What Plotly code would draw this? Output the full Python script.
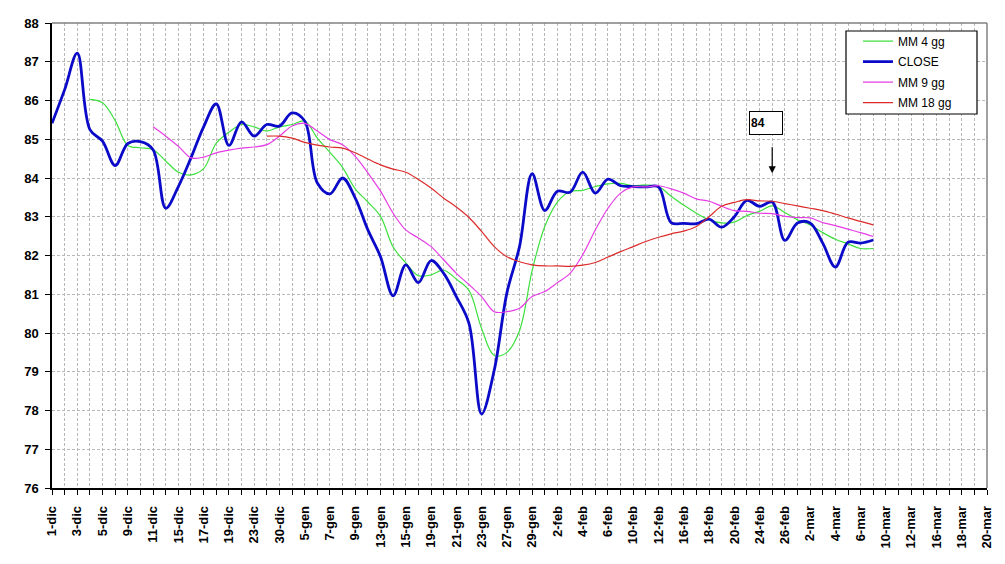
import plotly.graph_objects as go

dates = ["1-dic", "2-dic", "3-dic", "4-dic", "5-dic", "8-dic", "9-dic", "10-dic", "11-dic", "12-dic",
         "15-dic", "16-dic", "17-dic", "18-dic", "19-dic", "22-dic", "23-dic", "29-dic", "30-dic", "2-gen",
         "5-gen", "6-gen", "7-gen", "8-gen", "9-gen", "12-gen", "13-gen", "14-gen", "15-gen", "16-gen",
         "19-gen", "20-gen", "21-gen", "22-gen", "23-gen", "26-gen", "27-gen", "28-gen", "29-gen", "30-gen",
         "2-feb", "3-feb", "4-feb", "5-feb", "6-feb", "9-feb", "10-feb", "11-feb", "12-feb", "13-feb",
         "16-feb", "17-feb", "18-feb", "19-feb", "20-feb", "23-feb", "24-feb", "25-feb", "26-feb", "27-feb",
         "2-mar", "3-mar", "4-mar", "5-mar", "6-mar", "9-mar", "10-mar", "11-mar", "12-mar", "13-mar",
         "16-mar", "17-mar", "18-mar", "19-mar", "20-mar"]

close = [85.41, 86.28, 87.22, 85.25, 84.95, 84.32, 84.89, 84.94, 84.73, 83.22,
         83.78, 84.52, 85.32, 85.91, 84.84, 85.45, 85.08, 85.38, 85.34, 85.68,
         85.47, 83.87, 83.59, 84.00, 83.48, 82.66, 81.97, 80.96, 81.76, 81.30,
         81.87, 81.54, 80.94, 80.25, 77.91, 79.04, 81.03, 82.23, 84.11, 83.16,
         83.66, 83.63, 84.15, 83.61, 83.97, 83.80, 83.78, 83.77, 83.77, 82.85,
         82.83, 82.82, 82.94, 82.73, 83.00, 83.42, 83.27, 83.38, 82.39, 82.84,
         82.84, 82.32, 81.70, 82.34, 82.32, 82.40]

# MM 4 gg starts at the 4th session
mm4 = [86.03, 85.94, 85.48, 84.84, 84.78, 84.73, 84.44, 84.15, 84.08, 84.24,
       84.90, 85.18, 85.38, 85.32, 85.21, 85.32, 85.38, 85.47, 85.03, 84.66,
       84.27, 83.72, 83.38, 83.01, 82.22, 81.81, 81.48, 81.50, 81.62, 81.39,
       81.10, 80.12, 79.42, 79.50, 80.06, 81.61, 82.75, 83.38, 83.65, 83.68,
       83.78, 83.85, 83.86, 83.80, 83.82, 83.78, 83.53, 83.30, 83.09, 82.92,
       82.84, 82.86, 83.03, 83.14, 83.28, 83.11, 82.92, 82.79, 82.59, 82.42,
       82.30, 82.18, 82.18]

# MM 9 gg starts at the 9th session
mm9 = [85.32, 85.08, 84.82, 84.52, 84.54, 84.65, 84.72, 84.77, 84.80, 84.86,
       85.08, 85.34, 85.41, 85.21, 84.99, 84.86, 84.56, 84.13, 83.66, 83.09,
       82.66, 82.45, 82.23, 81.89, 81.54, 81.25, 80.94, 80.55, 80.55, 80.64,
       80.94, 81.07, 81.30, 81.54, 82.02, 82.66, 83.22, 83.61, 83.77, 83.77,
       83.80, 83.72, 83.61, 83.46, 83.40, 83.27, 83.16, 83.14, 83.09, 83.08,
       83.01, 82.98, 82.97, 82.85, 82.77, 82.68, 82.59, 82.49]

# MM 18 gg starts at the 18th session
mm18 = [85.08, 85.08, 85.03, 84.92, 84.85, 84.80, 84.77, 84.65, 84.49, 84.34,
        84.23, 84.15, 83.96, 83.74, 83.48, 83.25, 82.98, 82.62, 82.23, 81.97,
        81.84, 81.76, 81.73, 81.73, 81.72, 81.75, 81.82, 81.96, 82.10, 82.23,
        82.36, 82.47, 82.56, 82.63, 82.75, 83.00, 83.27, 83.37, 83.44, 83.41,
        83.40, 83.34, 83.28, 83.22, 83.16, 83.07, 82.97, 82.88, 82.79]

y_ticks = list(range(76, 89))
tick_text = [d if i % 2 == 0 else "" for i, d in enumerate(dates)]

FONT = "Liberation Sans, Arial, sans-serif"

fig = go.Figure()
fig.add_trace(go.Scatter(x=dates[3:3 + len(mm4)], y=mm4, name="MM 4 gg", mode="lines", legendgroup="a",
                         line=dict(color="#3ee03e", width=1.2, shape="spline", smoothing=1.0)))
fig.add_trace(go.Scatter(x=dates[:len(close)], y=close, name="CLOSE", mode="lines", legendgroup="b",
                         line=dict(color="#0a0ac8", width=2.8, shape="spline", smoothing=1.0)))
fig.add_trace(go.Scatter(x=dates[8:8 + len(mm9)], y=mm9, name="MM 9 gg", mode="lines", legendgroup="c",
                         line=dict(color="#e63ce6", width=1.2, shape="spline", smoothing=1.0)))
fig.add_trace(go.Scatter(x=dates[17:17 + len(mm18)], y=mm18, name="MM 18 gg", mode="lines", legendgroup="d",
                         line=dict(color="#dc2a2a", width=1.2, shape="spline", smoothing=1.0)))

fig.update_layout(
    width=1005, height=564,
    margin=dict(l=52, r=18, t=23, b=76),
    paper_bgcolor="white", plot_bgcolor="white",
    font=dict(family=FONT, size=12, color="black"),
    showlegend=True,
    legend=dict(x=0.862, y=0.992, xanchor="left", yanchor="top",
                bgcolor="rgba(0,0,0,0)", borderwidth=0, traceorder="grouped",
                font=dict(family=FONT, size=12, color="black"),
                tracegroupgap=1.5, itemwidth=30),
    xaxis=dict(type="category", categoryorder="array", categoryarray=dates,
               range=[0, len(dates) - 1],
               tickmode="array", tickvals=dates, ticktext=tick_text,
               tickangle=-90, tickfont=dict(family=FONT, size=13, weight="bold"),
               ticks="outside", ticklen=5, tickcolor="black", tickwidth=1,
               ticklabelstandoff=6,
               showline=True, linecolor="black", linewidth=1.5,
               showgrid=True, gridcolor="#b8b8b8", gridwidth=1, griddash="3px,2px",
               zeroline=False, fixedrange=True),
    yaxis=dict(range=[76, 88], tickmode="array", tickvals=y_ticks,
               tickfont=dict(family=FONT, size=13, weight="bold"),
               ticks="outside", ticklen=5, tickcolor="black", tickwidth=1,
               ticklabelstandoff=4,
               showline=True, linecolor="black", linewidth=1.5,
               showgrid=True, gridcolor="#b8b8b8", gridwidth=1, griddash="3px,2px",
               zeroline=False, fixedrange=True),
)

# grey frame on top and right of the plot area
fig.add_shape(type="line", xref="paper", yref="paper", x0=0, x1=1, y0=1, y1=1,
              line=dict(color="#808080", width=1.5))
fig.add_shape(type="line", xref="paper", yref="paper", x0=1, x1=1, y0=0, y1=1,
              line=dict(color="#808080", width=1.5))
# legend frame
fig.add_shape(type="rect", xref="paper", yref="paper",
              x0=(846 - 52) / 935, x1=(977 - 52) / 935,
              y0=1 - (114 - 23) / 465, y1=1 - (31 - 23) / 465,
              line=dict(color="black", width=1.2), fillcolor="white", layer="above")

# "84" label box with arrow
fig.add_annotation(x=dates[56], y=85.42, xref="x", yref="y", xshift=6.5,
                   text="<b>84</b>", showarrow=False, align="left",
                   font=dict(family=FONT, size=12, color="black"),
                   bgcolor="white", bordercolor="black", borderwidth=1,
                   width=30, height=20, borderpad=1)
fig.add_annotation(x=dates[57], y=84.12, ax=dates[57], ay=84.83, xref="x", yref="y",
                   axref="x", ayref="y", text="", showarrow=True,
                   arrowhead=2, arrowsize=1.2, arrowwidth=1.2, arrowcolor="black")

fig.write_html("out.html")
